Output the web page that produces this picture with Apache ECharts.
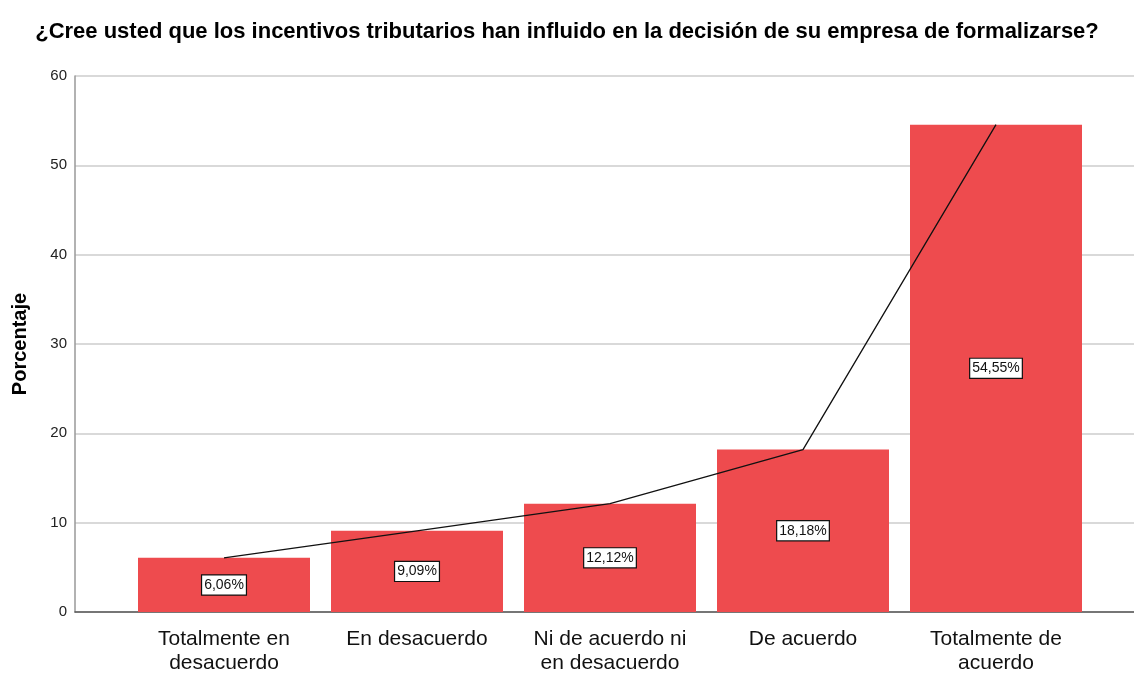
<!DOCTYPE html>
<html>
<head>
<meta charset="utf-8">
<script src="https://cdn.jsdelivr.net/npm/echarts@6/dist/echarts.min.js"></script>
<style>
  html, body { margin: 0; padding: 0; background: #fff; }
  #chart { width: 1134px; height: 673px; }
</style>
</head>
<body>
<div id="chart"></div>
<script>
let categories = ["Totalmente en\ndesacuerdo", "En desacuerdo", "Ni de acuerdo ni\nen desacuerdo", "De acuerdo", "Totalmente de\nacuerdo"];
let percentages = [6.06, 9.09, 12.12, 18.18, 54.55];
let yTicks = [0, 10, 20, 30, 40, 50, 60];

var dom = document.getElementById('chart');
var myChart = echarts.init(dom, null, { renderer: 'canvas' });

var font = '"Liberation Sans", Arial, sans-serif';

var option = {
    backgroundColor: '#fff',
    animation: false,
    title: {
        text: '¿Cree usted que los incentivos tributarios han influido en la decisión de su empresa de formalizarse?',
        left: 'center',
        top: 16,
        textStyle: { fontFamily: font, fontSize: 22, fontWeight: 'bold', color: '#000' }
    },
    grid: [
        // frame grid: y axis, gridlines and baseline
        { left: 75, right: 0, top: 76, bottom: 61, outerBoundsMode: 'none' },
        // bars grid
        { left: 127.5, right: 41.5, top: 76, bottom: 61, outerBoundsMode: 'none' }
    ],
    xAxis: [
        {
            gridIndex: 0, type: 'value', min: 0, max: 1,
            axisLine: { show: true, onZero: false, lineStyle: { color: '#555', width: 1.5 } },
            axisTick: { show: false }, axisLabel: { show: false }, splitLine: { show: false }
        },
        {
            gridIndex: 1, type: 'category', data: categories,
            axisLine: { show: false }, axisTick: { show: false },
            axisLabel: { fontFamily: font, fontSize: 21, color: '#111', lineHeight: 24, margin: 15, interval: 0 }
        }
    ],
    yAxis: [
        {
            gridIndex: 0, type: 'value', min: yTicks[0], max: yTicks[yTicks.length - 1], interval: 10,
            name: 'Porcentaje', nameLocation: 'middle', nameGap: 45,
            nameTextStyle: { fontFamily: font, fontSize: 20, fontWeight: 'bold', color: '#000' },
            axisLine: { show: true, lineStyle: { color: '#999', width: 1.5 } },
            axisTick: { show: false },
            axisLabel: { fontFamily: font, fontSize: 15, color: '#222', margin: 8 },
            splitLine: { show: true, lineStyle: { color: '#ccc', width: 1.5 } }
        },
        {
            gridIndex: 1, type: 'value', min: yTicks[0], max: yTicks[yTicks.length - 1],
            show: false, splitLine: { show: false }
        }
    ],
    series: [
        {
            type: 'bar',
            xAxisIndex: 1, yAxisIndex: 1,
            data: percentages,
            barWidth: 172,
            itemStyle: { color: '#EE4B4E' },
            label: {
                show: true,
                position: 'inside',
                formatter: function (p) { return p.value.toFixed(2).replace('.', ',') + '%'; },
                fontFamily: font, fontSize: 14, color: '#111',
                backgroundColor: '#fff', borderColor: '#111', borderWidth: 1.2,
                padding: [3, 2, 2, 2]
            },
            z: 2
        },
        {
            type: 'line',
            xAxisIndex: 1, yAxisIndex: 1,
            data: percentages,
            symbol: 'none',
            lineStyle: { color: '#111', width: 1.3 },
            z: 3
        }
    ]
};

myChart.setOption(option);
</script>
</body>
</html>
